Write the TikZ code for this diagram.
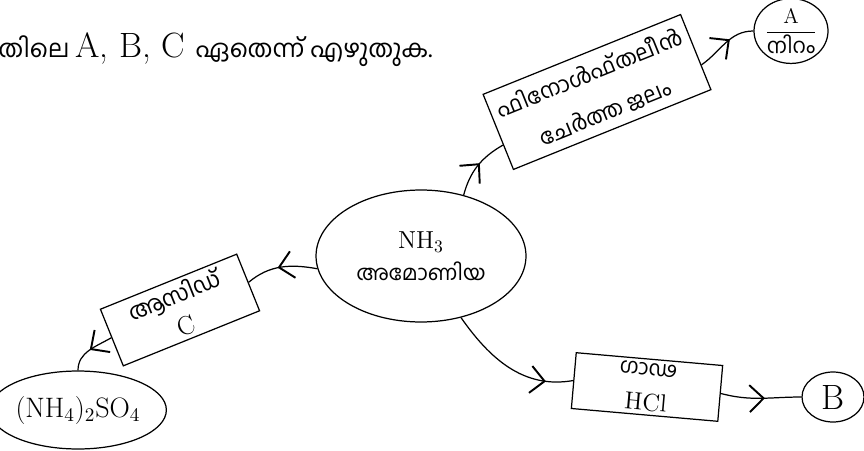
\documentclass[tikz,border=0pt]{standalone}
\usepackage{fontspec}
\usepackage{amsmath}
\usetikzlibrary{calc,shapes.geometric,arrows.meta,decorations.markings}
\newfontfamily\mlfont[Script=Malayalam]{Hind Kochi}

\begin{document}
\begin{tikzpicture}[x=0.02cm,y=0.02cm,
	box/.style={draw,line width=0.7pt,rectangle,align=center,inner sep=2pt},
	blob/.style={draw,line width=0.7pt,ellipse,align=center,inner sep=0pt},
	link/.style={line width=0.7pt,postaction={decorate},
		decoration={markings,mark=at position #1 with {\arrow{Straight Barb[length=2.8mm,width=5.4mm,line width=1.1pt]}}}}]
	\useasboundingbox (0,0) rectangle (864,450);
	%draw title
	\node[anchor=west,inner sep=0pt] (title) at (-2,400) {\fontsize{14}{19}\selectfont\mlfont തിലെ \fontsize{20}{22}\selectfont\rmfamily A, B, C \fontsize{14}{19}\selectfont\mlfont ഏതെന്ന് എഴുതുക.};
	%draw ellipses
	\node[blob,minimum width=4.2cm,minimum height=2.64cm,font=\fontsize{14}{18}\selectfont] (nh3) at (421,194) {NH$_3$\\\fontsize{12}{14}\selectfont\mlfont അമോണിയ};
	\node[blob,minimum width=1.22cm,minimum height=0.98cm,font=\fontsize{12}{13}\selectfont] (colour) at (791,419) {$\dfrac{\text{A}}{\text{\mlfont നിറം}}$};
	\node[blob,minimum width=2.8cm,minimum height=1.56cm,font=\fontsize{16}{20}\selectfont] (salt) at (78,40) {(NH$_4$)$_2$SO$_4$};
	\node[blob,minimum width=1.24cm,minimum height=1.0cm,font=\fontsize{20}{22}\selectfont] (prodB) at (833,53) {B};
	%draw boxes
	\node[box,rotate=22,minimum width=4.26cm,minimum height=1.62cm,font=\fontsize{12.5}{24}\selectfont\mlfont] (indic) at (597,358) {ഫിനോൾഫ്തലീൻ\\ചേർത്ത ജലം};
	\node[box,rotate=22,minimum width=2.94cm,minimum height=1.1cm,font=\fontsize{13}{19}\selectfont] (acid) at (180,140) {\mlfont ആസിഡ്\\\fontsize{15}{19}\selectfont C};
	\node[box,rotate=-5,minimum width=2.94cm,minimum height=1.12cm,font=\fontsize{14}{20}\selectfont] (conc) at (647,63) {\fontsize{12}{20}\selectfont\mlfont ഗാഢ\\HCl};
	%draw arrows
	\draw[link=0.55] (nh3.55) to[out=75,in=210] ($(indic.south west)!0.33!(indic.north west)$);
	\draw[link=0.6] ($(indic.south east)!0.33!(indic.north east)$) to[out=35,in=180] (colour.west);
	\draw[link=0.55] (nh3.187) to[out=170,in=40] (acid.east);
	\draw[link=0.5] (acid.west) to[out=210,in=90] (salt.north);
	\draw[link=0.8] (nh3.-57) to[out=-55,in=190] (conc.west);
	\draw[link=0.55] (conc.east) to[out=-15,in=180] (prodB.west);
\end{tikzpicture}
\end{document}
